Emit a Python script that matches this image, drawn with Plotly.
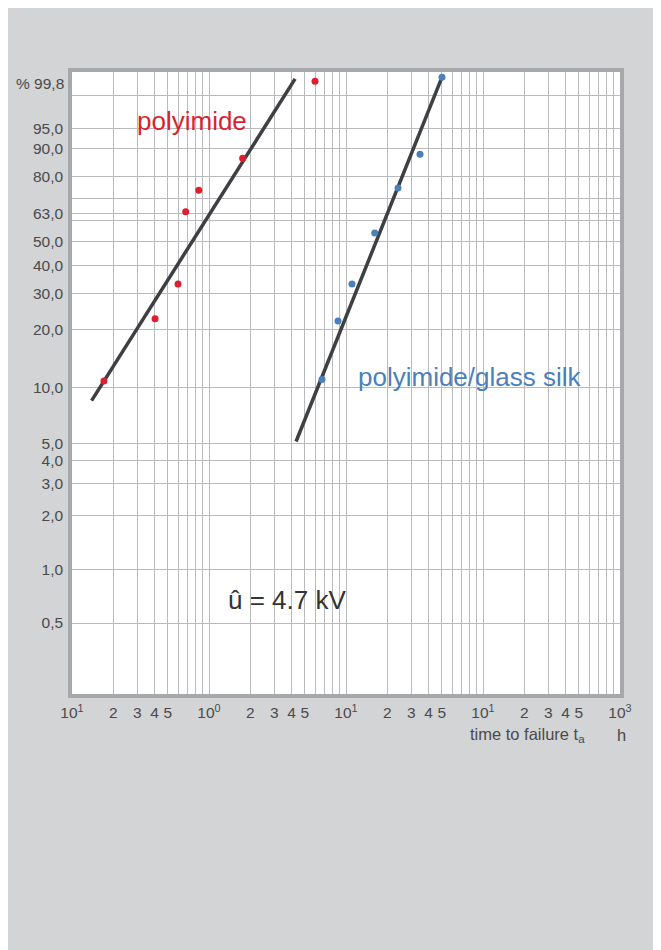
import numpy as np
import plotly.graph_objects as go

# ---- data (time in hours, cumulative failure in %) ----
poly_t = [0.171, 0.404, 0.594, 0.676, 0.842, 1.76, 5.94]
poly_F = [10.8, 22.6, 33.0, 64.0, 74.0, 87.0, 99.6]
poly_line_t = [0.139, 4.25]
poly_line_F = [8.5, 99.66]

glass_t = [6.68, 8.74, 11.06, 16.2, 23.97, 34.7, 50.2]
glass_F = [11.0, 22.0, 33.0, 54.0, 75.0, 88.3, 99.7]
glass_line_t = [4.32, 50.2]
glass_line_F = [5.1, 99.7]

y_grid = [99.0, 95.0, 90.0, 80.0, 70.0, 63.0, 60.0, 50.0, 40.0, 30.0, 20.0, 10.0, 5.0, 4.0, 3.0, 2.0, 1.0, 0.5]
y_labels = ["", "95,0", "90,0", "80,0", "", "63,0", "", "50,0", "40,0", "30,0", "20,0", "10,0", "5,0", "4,0", "3,0", "2,0", "1,0", "0,5"]
y_top_label = "% 99,8"
y_range_F = [0.2, 99.8]

x_decades = [0.1, 1, 10, 100]
x_decade_labels = ["10<sup>1</sup>", "10<sup>0</sup>", "10<sup>1</sup>", "10<sup>1</sup>"]
x_last = 1000
x_last_label = "10<sup>3</sup>"


def W(F):
    F = np.asarray(F, dtype=float) / 100.0
    return np.log(-np.log(1.0 - F))


# x ticks: all 1..9 per decade, labels on 1..5
xt, xl = [], []
for d, lab in zip(x_decades, x_decade_labels):
    for m in range(1, 10):
        xt.append(d * m)
        if m == 1:
            xl.append(lab)
        elif m <= 5:
            xl.append(str(m))
        else:
            xl.append("")
xt.append(x_last)
xl.append(x_last_label)

RED = "#dc1f2e"
BLUE = "#4a80bb"
LINE = "#3d3f42"
GRID = "#b9babc"
BORDER = "#a6a8ab"
TXT = "#4a4a4a"
FONT = "Liberation Sans, Arial, sans-serif"

fig = go.Figure()
fig.add_trace(go.Scatter(x=poly_line_t, y=W(poly_line_F), mode="lines",
                         line=dict(color=LINE, width=3.5), hoverinfo="skip"))
fig.add_trace(go.Scatter(x=glass_line_t, y=W(glass_line_F), mode="lines",
                         line=dict(color=LINE, width=3.5), hoverinfo="skip"))
fig.add_trace(go.Scatter(x=poly_t, y=W(poly_F), mode="markers",
                         marker=dict(color=RED, size=7)))
fig.add_trace(go.Scatter(x=glass_t, y=W(glass_F), mode="markers",
                         marker=dict(color=BLUE, size=7)))

fig.update_xaxes(type="log", range=[-1, 3], tickmode="array", tickvals=xt, ticktext=xl,
                 showgrid=True, gridcolor=GRID, gridwidth=1.2, zeroline=False,
                 showline=True, mirror=True, linecolor=BORDER, linewidth=3.5,
                 ticks="", ticklabelstandoff=2,
                 tickfont=dict(family=FONT, size=15.5, color=TXT))
fig.update_yaxes(range=[float(W(y_range_F[0])), float(W(y_range_F[1]))], tickmode="array",
                 tickvals=list(W(y_grid)), ticktext=y_labels,
                 showgrid=True, gridcolor=GRID, gridwidth=1.2, zeroline=False,
                 showline=True, mirror=True, linecolor=BORDER, linewidth=3.5,
                 ticks="", ticklabelstandoff=2,
                 tickfont=dict(family=FONT, size=15.5, color=TXT))

annos = [
    dict(text="polyimide", x=0.219, y=0.921, font=dict(size=26, color=RED)),
    dict(text="polyimide/glass silk", x=0.727, y=0.5096, font=dict(size=26, color=BLUE)),
    dict(text="û = 4.7 kV", x=0.393, y=0.151, font=dict(size=26, color="#333333")),
    dict(text=y_top_label, x=-0.011, y=0.982, xanchor="right", font=dict(size=15.5, color=TXT)),
    dict(text="time to failure t<sub>a</sub>", x=0.832, y=-0.066, font=dict(size=16.5, color=TXT)),
    dict(text="h", x=1.0036, y=-0.066, font=dict(size=16.5, color=TXT)),
]
for a in annos:
    a.setdefault("xanchor", "center")
    a["font"]["family"] = FONT
    fig.add_annotation(xref="paper", yref="paper", showarrow=False, yanchor="middle", **a)

fig.update_layout(width=661, height=950, margin=dict(l=64, r=49, t=64, b=264),
                  paper_bgcolor="#d3d4d6", plot_bgcolor="white", showlegend=False,
                  font=dict(family=FONT))

fig.write_html("out.html")
